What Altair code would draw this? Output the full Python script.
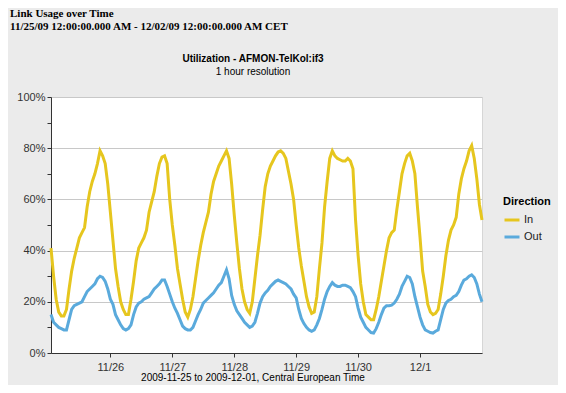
import altair as alt
import pandas as pd

# ---- data (hourly) ----
start_time = "2009-11-25 01:00"
directions = ["In", "Out"]
in_values = [
    41, 30, 21, 16, 14.5, 14.5, 17, 25, 32, 37, 41, 45, 47, 49, 57, 63, 67, 70, 74, 79, 77, 74, 66, 55,
    44, 33, 26, 20, 17, 15, 15, 21, 28, 36, 41, 43, 45, 48, 55, 59, 63, 69, 74, 76.5, 77, 74, 60, 50,
    42, 33, 27, 21, 16, 14, 17, 22, 29, 36, 42, 47, 51, 55, 62, 67, 70, 73, 75, 77, 79, 76, 66, 54,
    43, 33, 25, 20, 17, 15.5, 20, 29, 38, 46, 56, 65, 70, 73, 75, 77, 78.5, 79, 78, 76, 71, 66, 60, 50,
    41, 34, 28, 22, 18, 15.5, 16, 22, 33, 43, 57, 67, 76, 79, 77, 76, 75.5, 75, 75, 76, 75, 72, 52, 38,
    27, 20, 15, 14, 13, 13, 17, 22, 28, 34, 40, 45, 47, 48, 56, 63, 70, 74, 77, 78, 75, 70, 57, 45,
    32, 26, 19, 16, 15, 15.5, 17, 23, 30, 38, 44, 48, 50, 53, 62, 68, 72, 75, 79, 81, 76, 68, 58, 52,
]
out_values = [
    15, 12, 11, 10, 9.5, 9, 9, 13, 17, 18.5, 19, 19.5, 20, 22, 24, 25, 26, 27, 29, 30, 29.5, 28, 25, 21,
    19, 15, 13, 11, 9.5, 9, 9.5, 11, 15, 18, 19.5, 20, 21, 21.5, 22, 23.5, 25, 26, 27, 28.5, 28.5, 26, 23, 20,
    17.5, 15.5, 13, 10.5, 9.5, 9, 9, 10, 12.5, 15, 17, 19.5, 20.5, 21.5, 22.5, 23.5, 25, 26.5, 27.5, 30, 32.5, 29, 22.5, 19,
    16.5, 15, 13.5, 12, 11, 10, 10.5, 12, 15.5, 19.5, 22, 23.5, 24.5, 26, 27, 28, 28.5, 28, 27.5, 27, 26, 25, 23, 21.5,
    17, 13.5, 11.5, 10, 9, 8.5, 9, 11, 13.5, 17, 21, 24, 26, 27.5, 26.5, 26, 26, 26.5, 26.5, 26, 25.5, 24, 22, 17.5,
    14, 12, 10, 9, 8, 7.8, 9.5, 12, 15, 17.5, 18.5, 18.5, 18.7, 19.5, 21, 23, 26, 28, 30, 29.5, 27, 22, 18, 14,
    11, 9, 8.5, 8, 7.8, 8.5, 9, 13, 17, 19.5, 20.5, 21, 22, 22.5, 24, 26.5, 28.5, 29, 30, 30.5, 29.5, 27, 23, 20,
]
y_ticks = [0, 10, 20, 30, 40, 50, 60, 70, 80, 90, 100]
x_tick_days = [(11, 26), (11, 27), (11, 28), (11, 29), (11, 30), (12, 1)]

page_title = "Link Usage over Time"
page_subtitle = "11/25/09 12:00:00.000 AM - 12/02/09 12:00:00.000 AM CET"
chart_title = "Utilization - AFMON-TelKol:if3"
chart_subtitle = "1 hour resolution"
x_title = "2009-11-25 to 2009-12-01, Central European Time"

times = pd.date_range(start_time, periods=len(in_values), freq="h")
df = pd.concat([
    pd.DataFrame({"time": times, "value": in_values, "Direction": "In"}),
    pd.DataFrame({"time": times, "value": out_values, "Direction": "Out"}),
])

SANS = "Liberation Sans"
SERIF = "Liberation Serif"

lines = alt.Chart(df).mark_line(strokeWidth=3).encode(
    x=alt.X(
        "time:T",
        title=None,
        scale=alt.Scale(domain=[alt.DateTime(year=2009, month=11, date=25, hours=1),
                                alt.DateTime(year=2009, month=12, date=2, hours=0)]),
        axis=alt.Axis(
            values=[alt.DateTime(year=2009, month=m, date=d) for m, d in x_tick_days],
            format="%-m/%-d", grid=False, tickSize=4, labelPadding=4,
            labelFont=SANS, labelFontSize=11, labelColor="#333333",
            domainColor="#333333", tickColor="#333333",
        ),
    ),
    y=alt.Y(
        "value:Q",
        title=None,
        scale=alt.Scale(domain=[0, 100]),
        axis=alt.Axis(
            values=y_ticks,
            labelExpr="datum.value % 20 == 0 ? datum.value + '%' : ''",
            grid=True, gridColor="#c8c8c8",
            gridOpacity={"condition": {"test": "datum.value % 20 == 0", "value": 1}, "value": 0},
            tickSize=4, labelPadding=2,
            labelFont=SANS, labelFontSize=11, labelColor="#333333",
            domainColor="#333333", tickColor="#333333",
        ),
    ),
    color=alt.Color(
        "Direction:N",
        scale=alt.Scale(domain=directions, range=["#e6c61e", "#5aaadc"]),
        legend=alt.Legend(
            orient="none", legendX=452, legendY=99,
            title="Direction", titleFont=SANS, titleFontSize=11, titleFontWeight="bold",
            titleColor="#000000", titlePadding=4,
            symbolType="stroke", symbolStrokeWidth=3, symbolSize=225,
            labelFont=SANS, labelFontSize=11, labelColor="#222222", labelOffset=3,
            rowPadding=2,
        ),
    ),
)


def text_layer(txt, x, y, size, weight, font, align):
    return alt.Chart(pd.DataFrame({"t": [txt]})).mark_text(
        font=font, fontSize=size, fontWeight=weight, align=align,
        baseline="alphabetic", color="#000000",
    ).encode(x=alt.value(x), y=alt.value(y), text="t:N")


texts = [
    text_layer(page_title, -41, -80, 11, "bold", SERIF, "left"),
    text_layer(page_subtitle, -41, -67, 11, "bold", SERIF, "left"),
    text_layer(chart_title, 202, -35, 10, "bold", SANS, "center"),
    text_layer(chart_subtitle, 202, -22, 10, "normal", SANS, "center"),
    text_layer(x_title, 202, 284, 10, "normal", SANS, "center"),
]

chart = alt.layer(lines, *texts).properties(
    width=431, height=256,
    autosize=alt.AutoSizeParams(type="none"),
    padding={"left": 43, "top": 89, "right": 76, "bottom": 32},
    background="#ebebeb",
).configure_view(fill="#ffffff", stroke="#d6d6d6")

chart.save("out.html", embed_options={"renderer": "svg", "actions": False})
